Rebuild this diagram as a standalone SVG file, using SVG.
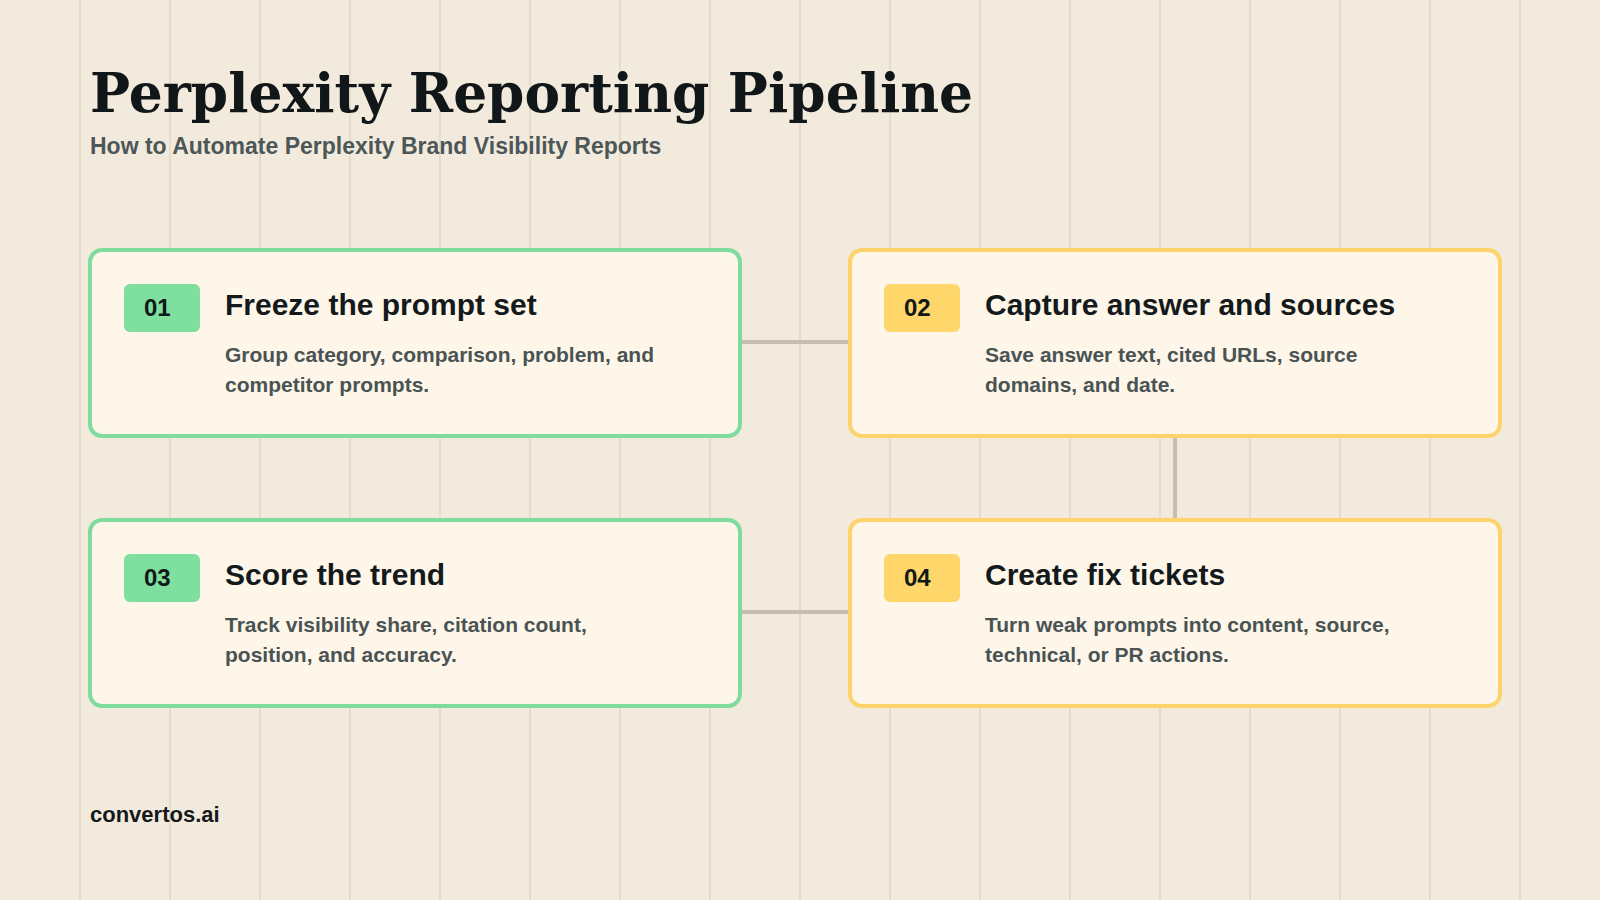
<svg xmlns="http://www.w3.org/2000/svg" width="1600" height="900" viewBox="0 0 1600 900">
<style>
.grid{stroke:#e5dccb;stroke-width:2}
.card{fill:#fdf6e9;stroke-width:4}
.g .card{stroke:#7fdc9c}
.y .card{stroke:#fdd36b}
.g .badge{fill:#7fdf9f}
.y .badge{fill:#fed66a}
.num{font-family:"Liberation Sans",Arial,sans-serif;font-weight:bold;font-size:24px;fill:#111818}
.title{font-family:"Liberation Sans",Arial,sans-serif;font-weight:bold;font-size:30px;fill:#141a1b}
.desc{font-family:"Liberation Sans",Arial,sans-serif;font-weight:bold;font-size:21px;fill:#4a5354}
.conn{stroke:#c6beae;stroke-width:4;fill:none}
</style>
<rect width="1600" height="900" fill="#f2ebdd"/>
<g id="grid">
<line class="grid" x1="80" y1="0" x2="80" y2="900"/>
<line class="grid" x1="170" y1="0" x2="170" y2="900"/>
<line class="grid" x1="260" y1="0" x2="260" y2="900"/>
<line class="grid" x1="350" y1="0" x2="350" y2="900"/>
<line class="grid" x1="440" y1="0" x2="440" y2="900"/>
<line class="grid" x1="530" y1="0" x2="530" y2="900"/>
<line class="grid" x1="620" y1="0" x2="620" y2="900"/>
<line class="grid" x1="710" y1="0" x2="710" y2="900"/>
<line class="grid" x1="800" y1="0" x2="800" y2="900"/>
<line class="grid" x1="890" y1="0" x2="890" y2="900"/>
<line class="grid" x1="980" y1="0" x2="980" y2="900"/>
<line class="grid" x1="1070" y1="0" x2="1070" y2="900"/>
<line class="grid" x1="1160" y1="0" x2="1160" y2="900"/>
<line class="grid" x1="1250" y1="0" x2="1250" y2="900"/>
<line class="grid" x1="1340" y1="0" x2="1340" y2="900"/>
<line class="grid" x1="1430" y1="0" x2="1430" y2="900"/>
<line class="grid" x1="1520" y1="0" x2="1520" y2="900"/>
</g>
<g id="header">
<text x="90" y="112" font-family="'DejaVu Serif',Georgia,serif" font-weight="bold" font-size="53.4" fill="#111718">Perplexity Reporting Pipeline</text>
<text x="90" y="154" font-family="'Liberation Sans',Arial,sans-serif" font-weight="bold" font-size="23" fill="#4d5758">How to Automate Perplexity Brand Visibility Reports</text>
</g>
<g id="connectors">
<line class="conn" x1="740" y1="342" x2="850" y2="342"/>
<line class="conn" x1="1175" y1="436" x2="1175" y2="520"/>
<line class="conn" x1="740" y1="612" x2="850" y2="612"/>
</g>
<g id="node-01" class="g">
<rect class="card" x="90" y="250" width="650" height="186" rx="12"/>
<rect class="badge" x="124" y="284" width="76" height="48" rx="6"/>
<text class="num" x="144" y="316">01</text>
<text class="title" x="225" y="315">Freeze the prompt set</text>
<text class="desc" x="225" y="362">Group category, comparison, problem, and</text>
<text class="desc" x="225" y="392">competitor prompts.</text>
</g>
<g id="node-02" class="y">
<rect class="card" x="850" y="250" width="650" height="186" rx="12"/>
<rect class="badge" x="884" y="284" width="76" height="48" rx="6"/>
<text class="num" x="904" y="316">02</text>
<text class="title" x="985" y="315">Capture answer and sources</text>
<text class="desc" x="985" y="362">Save answer text, cited URLs, source</text>
<text class="desc" x="985" y="392">domains, and date.</text>
</g>
<g id="node-03" class="g">
<rect class="card" x="90" y="520" width="650" height="186" rx="12"/>
<rect class="badge" x="124" y="554" width="76" height="48" rx="6"/>
<text class="num" x="144" y="586">03</text>
<text class="title" x="225" y="585">Score the trend</text>
<text class="desc" x="225" y="632">Track visibility share, citation count,</text>
<text class="desc" x="225" y="662">position, and accuracy.</text>
</g>
<g id="node-04" class="y">
<rect class="card" x="850" y="520" width="650" height="186" rx="12"/>
<rect class="badge" x="884" y="554" width="76" height="48" rx="6"/>
<text class="num" x="904" y="586">04</text>
<text class="title" x="985" y="585">Create fix tickets</text>
<text class="desc" x="985" y="632">Turn weak prompts into content, source,</text>
<text class="desc" x="985" y="662">technical, or PR actions.</text>
</g>
<g id="footer">
<text x="90" y="822" font-family="'Liberation Sans',Arial,sans-serif" font-weight="bold" font-size="22" fill="#15191a">convertos.ai</text>
</g>
</svg>
